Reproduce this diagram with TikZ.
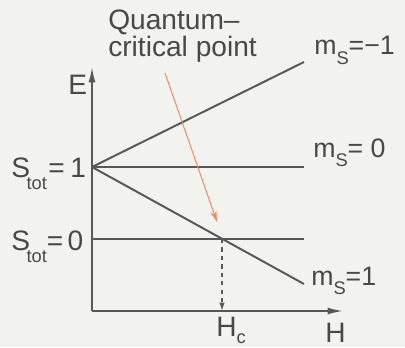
\documentclass[tikz,border=0pt]{standalone}
\usepackage{fontspec}
\setmainfont{Liberation Sans}
\usepackage{xcolor}
\definecolor{qpaper}{RGB}{242,242,239}
\definecolor{qline}{RGB}{88,88,88}
\definecolor{qtext}{RGB}{72,72,72}
\definecolor{qorange}{RGB}{240,140,100}
\usetikzlibrary{arrows.meta,positioning,calc}
\newcommand{\lowsub}[2][0.35em]{\raisebox{-#1}{\fontsize{13}{13}\selectfont #2}}

\begin{document}
\begin{tikzpicture}[x=0.025cm,y=-0.025cm,
  lbl/.style={inner sep=0pt,text=qtext,font=\fontsize{20}{17}\selectfont},
  mlbl/.style={lbl,font=\fontsize{19}{17}\selectfont},
  level/.style={qline,line width=1.4pt},
  axis/.style={qline,line width=1.2pt,-{Latex[length=11pt,width=5pt]}},
  pointer/.style={qorange,line width=0.7pt,-{Stealth[length=8pt,width=4.5pt]}}]
  \fill[qpaper] (0,0) rectangle (405,347);
  \useasboundingbox (0,0) rectangle (405,347);
  % Axes
  \coordinate (o) at (92,311);
  \coordinate (etip) at (92,67);
  \coordinate (htip) at (343,311);
  \draw[axis] (o) -- (etip);
  \draw[axis] (o) -- (htip);
  \node[lbl,anchor=base west] (e) at (68,95) {E};
  \node[lbl,anchor=base west] (h) at (325,342) {H};
  % Levels
  \coordinate (s1) at (92,167);
  \coordinate (s0) at (92,239);
  \coordinate (mneg) at (304,62);
  \coordinate (mzero) at (304,167);
  \coordinate (mpos) at (304,284);
  \coordinate (szero) at (304,239);
  \draw[level] (s1) -- (mneg);
  \draw[level] (s1) -- (mzero);
  \draw[level] (s1) -- (mpos);
  \draw[level] (s0) -- (szero);
  \node[mlbl,anchor=base west] (lneg) at (314,55) {m\lowsub{S}=−1};
  \node[mlbl,anchor=base west] (lzero) at (313,157) {m\lowsub{S}= 0};
  \node[mlbl,anchor=base west] (lpos) at (311,285) {m\lowsub{S}=1};
  \node[lbl,anchor=base west] (tone) at (11,177) {S\kern-0.12em\lowsub[0.45em]{tot}\kern0.05em=\kern0.2em1};
  \node[lbl,anchor=base west] (tzero) at (11,250) {S\kern-0.12em\lowsub[0.45em]{tot}=\kern0.15em0};
  % Critical field
  \coordinate (qcp) at (222,239);
  \coordinate (hc) at (222,311);
  \draw[qline,line width=1pt,dashed,-{Latex[length=6pt,width=4pt]}] (qcp) -- (hc);
  \node[lbl,anchor=base west] (lhc) at (216,336) {H\lowsub[0.25em]{c}};
  % Pointer
  \node[lbl,anchor=base west,align=left] (qlabel) at (108,57) {Quantum–\\critical point};
  \coordinate (ptail) at (165,73);
  \coordinate (phead) at (217,222);
  \draw[pointer] (ptail) -- (phead);
\end{tikzpicture}
\end{document}
